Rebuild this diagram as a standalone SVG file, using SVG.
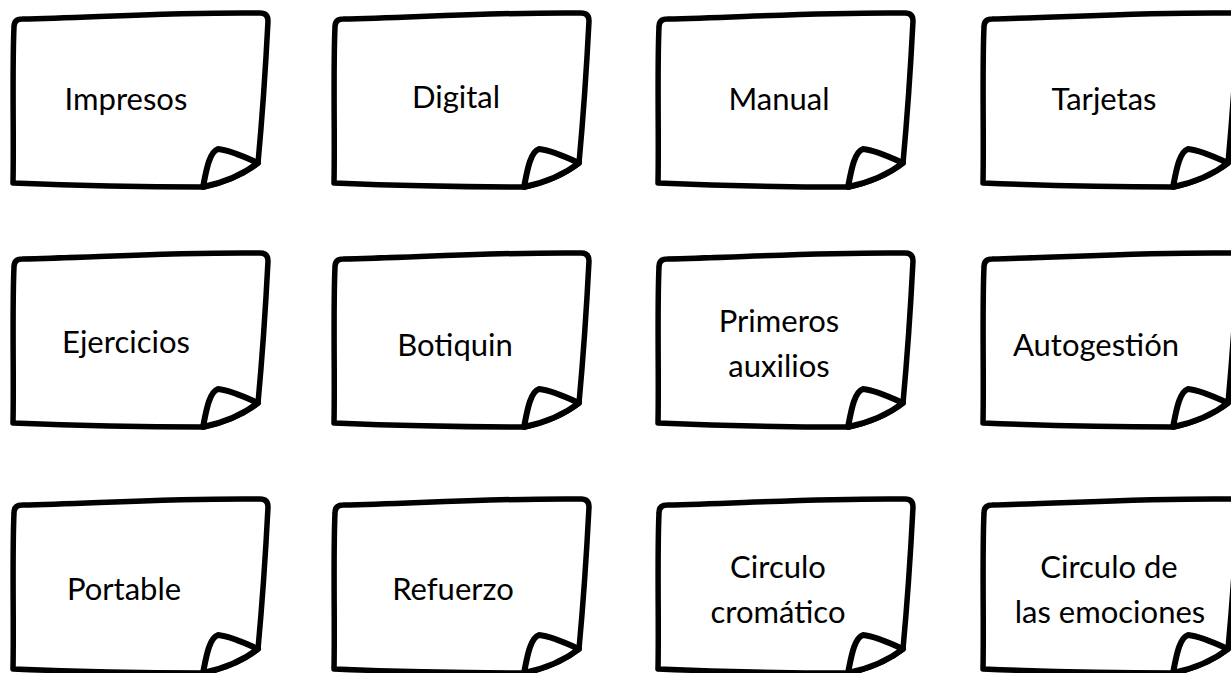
<svg xmlns="http://www.w3.org/2000/svg" xmlns:xlink="http://www.w3.org/1999/xlink" width="1231" height="673" viewBox="0 0 1231 673">
  <style>
    .outline { fill: #ffffff; stroke: #000000; stroke-width: 5.5; stroke-linecap: round; stroke-linejoin: round; }
    .fold { fill: #ffffff; stroke: #000000; stroke-width: 6; stroke-linecap: round; stroke-linejoin: round; }
    .label { font-family: Lato, "Open Sans", "Liberation Sans", sans-serif; font-size: 31px; fill: #000000; text-anchor: middle; }
  </style>
  <defs>
    <g id="note">
      <path class="outline" d="M 203,187 Q 110,187 13,183 C 14,140 12,70 14,27 Q 14,19 22,19 C 100,17 180,12 260,13 Q 268,13 268,21 C 266,60 262,120 258,163 Q 236,180 203,187 Z"/>
      <path class="fold" d="M 258,163 Q 236,180 203,187 C 206,172 209,152 218,149 C 230,150 245,157 258,163 Z"/>
    </g>
  </defs>
  <rect width="1231" height="673" fill="#ffffff"/>
  <g id="connectors"/>

  <g id="node-impresos"><use xlink:href="#note" transform="translate(0,0)"/><text class="label" x="126" y="110">Impresos</text></g>
  <g id="node-digital"><use xlink:href="#note" transform="translate(321,0)"/><text class="label" x="456" y="108">Digital</text></g>
  <g id="node-manual"><use xlink:href="#note" transform="translate(645,0)"/><text class="label" x="779" y="110">Manual</text></g>
  <g id="node-tarjetas"><use xlink:href="#note" transform="translate(970,0)"/><text class="label" x="1104" y="110">Tarjetas</text></g>

  <g id="node-ejercicios"><use xlink:href="#note" transform="translate(0,240)"/><text class="label" x="126" y="353">Ejercicios</text></g>
  <g id="node-botiquin"><use xlink:href="#note" transform="translate(321,240)"/><text class="label" x="455" y="356">Botiquin</text></g>
  <g id="node-primeros"><use xlink:href="#note" transform="translate(645,240)"/><text class="label" x="779" y="332">Primeros</text><text class="label" x="779" y="377">auxilios</text></g>
  <g id="node-autogestion"><use xlink:href="#note" transform="translate(970,240)"/><text class="label" x="1096" y="356">Autogestión</text></g>

  <g id="node-portable"><use xlink:href="#note" transform="translate(0,486)"/><text class="label" x="124" y="600">Portable</text></g>
  <g id="node-refuerzo"><use xlink:href="#note" transform="translate(321,486)"/><text class="label" x="453" y="600">Refuerzo</text></g>
  <g id="node-circulo-cromatico"><use xlink:href="#note" transform="translate(645,486)"/><text class="label" x="778" y="578">Circulo</text><text class="label" x="778" y="623">cromático</text></g>
  <g id="node-circulo-emociones"><use xlink:href="#note" transform="translate(970,486)"/><text class="label" x="1109" y="578">Circulo de</text><text class="label" x="1110" y="623">las emociones</text></g>
</svg>
